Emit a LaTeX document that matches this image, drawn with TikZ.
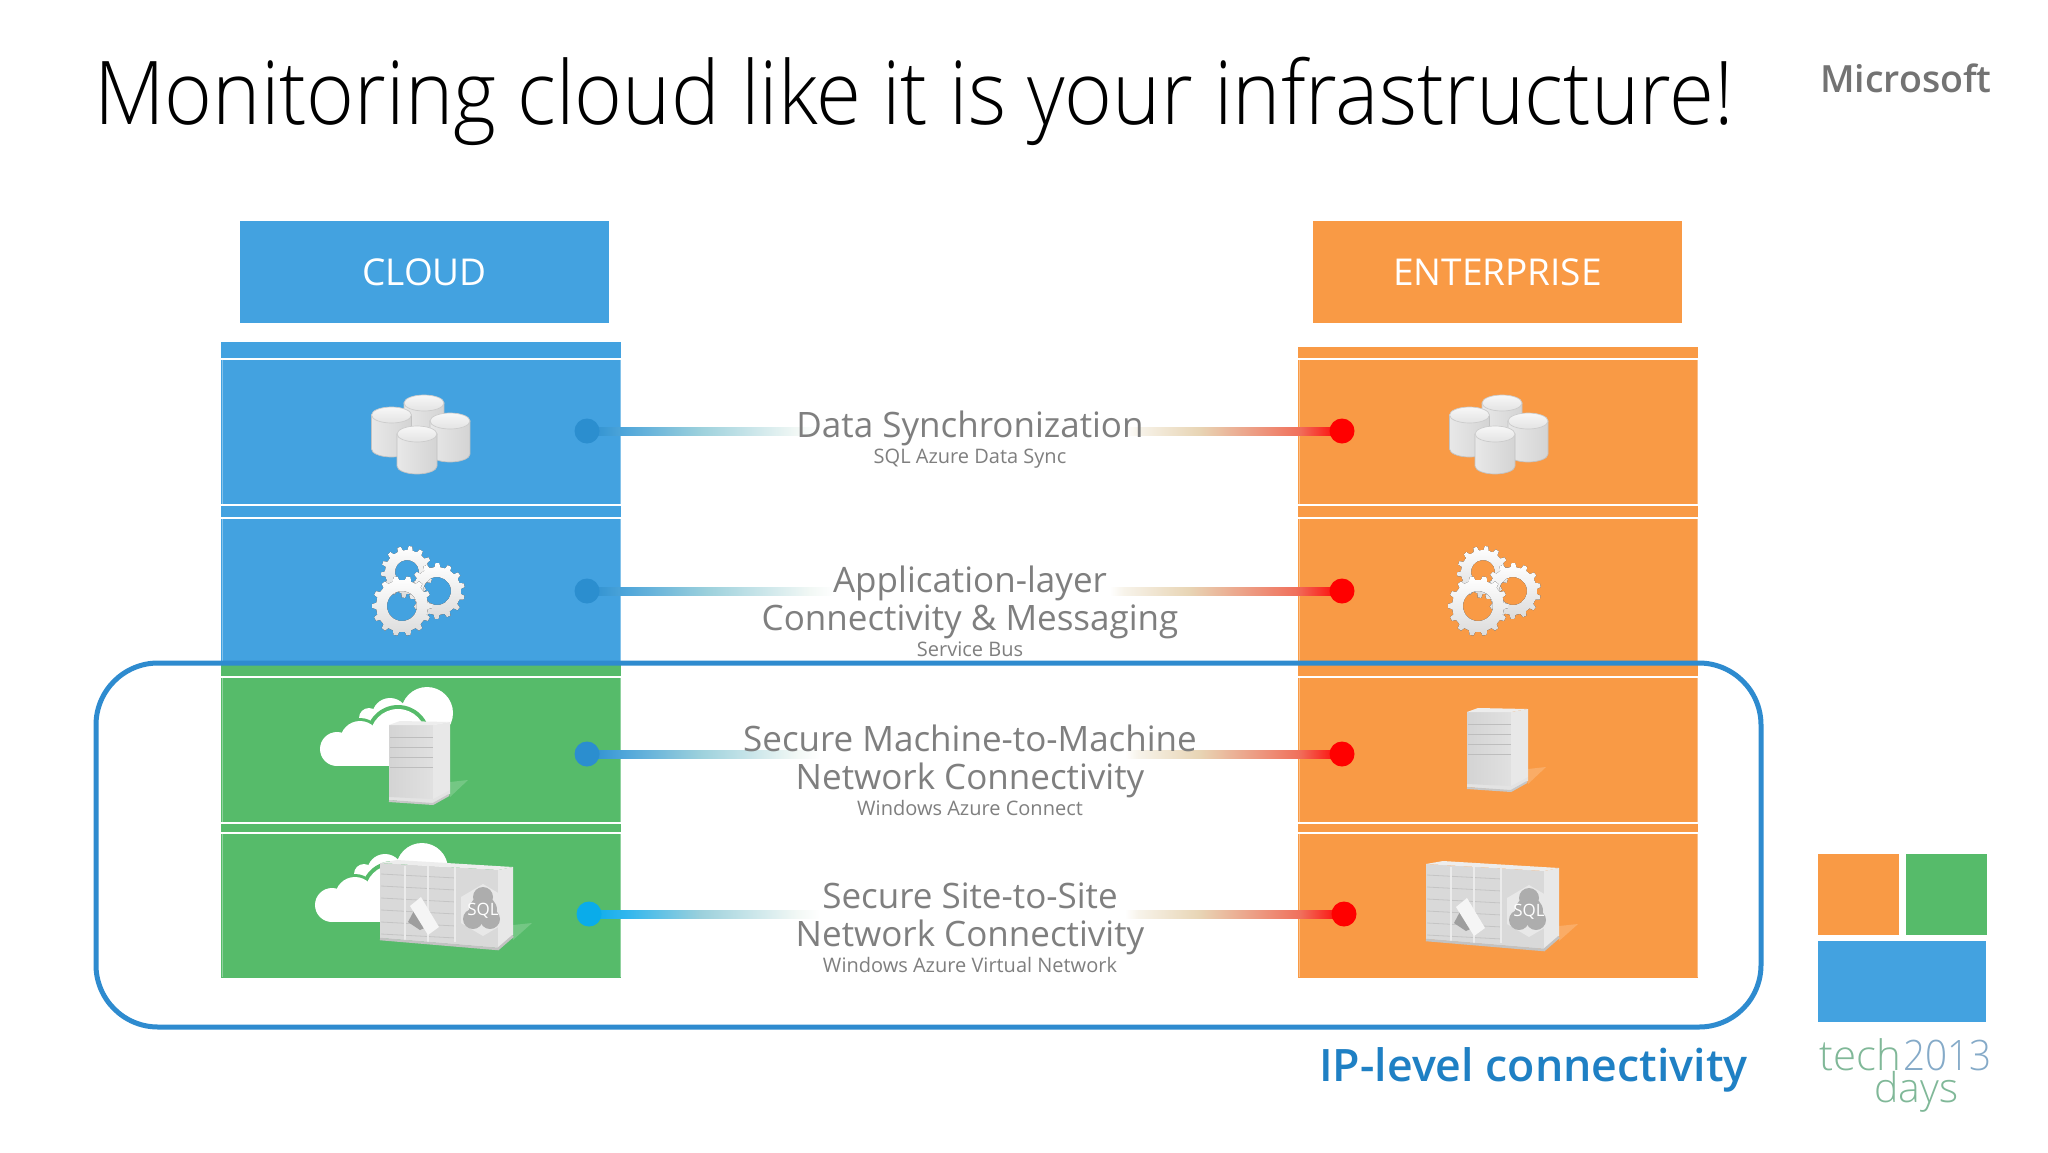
\documentclass[tikz,border=0pt]{standalone}
\usepackage{fontspec}
\usetikzlibrary{calc,shapes.geometric}
\setmainfont{Open Sans}
\newfontfamily\lightf{Open Sans Light}
\newfontfamily\boldf{Open Sans}[UprightFont={* Semibold}]
\definecolor{cblue}{HTML}{43A2E0}
\definecolor{cgreen}{HTML}{56BB6A}
\definecolor{corange}{HTML}{F99A45}
\definecolor{frameblue}{HTML}{2E8BCF}
\definecolor{labelgray}{HTML}{7F7F7F}
\definecolor{dotblue}{HTML}{2B8ECF}
\definecolor{dotcyan}{HTML}{0AACEA}
\definecolor{ipblue}{HTML}{1F80C4}
\definecolor{lA}{HTML}{4FA6DA}
\definecolor{lB}{HTML}{9BD0DC}
\definecolor{lC}{HTML}{F2F8F5}
\definecolor{cA}{HTML}{30B6EE}
\definecolor{rA}{HTML}{F7F3EA}
\definecolor{rB}{HTML}{E8D5B5}
\definecolor{rC}{HTML}{F0705C}
\definecolor{techgreen}{HTML}{80B898}
\definecolor{techblue}{HTML}{85AAC8}
\pgfdeclarehorizontalshading{connL}{100bp}{color(0bp)=(dotblue);color(25bp)=(dotblue);color(33bp)=(lA);color(49bp)=(lB);color(70bp)=(lC);color(75bp)=(white);color(100bp)=(white)}
\pgfdeclarehorizontalshading{connC}{100bp}{color(0bp)=(dotcyan);color(25bp)=(dotcyan);color(33bp)=(cA);color(49bp)=(lB);color(70bp)=(lC);color(75bp)=(white);color(100bp)=(white)}
\pgfdeclarehorizontalshading{connR}{100bp}{color(0bp)=(white);color(25bp)=(white);color(28bp)=(rA);color(42bp)=(rB);color(65bp)=(rC);color(75bp)=(red);color(100bp)=(red)}
\newcommand{\cyl}[3]{% cx, top edge, bottom edge
  \path[shade,left color=black!9,middle color=white,right color=black!17,draw=black!24,line width=.7pt]
    (#1-20,#2+8) -- (#1-20,#3-8) arc[start angle=180,end angle=0,x radius=20,y radius=8] -- (#1+20,#2+8) -- cycle;
  \path[shade,top color=black!3,bottom color=black!11,draw=black!20,line width=.7pt]
    (#1,#2+8) ellipse[x radius=20,y radius=8];
}
\newcommand{\gearshape}[5]{% cx, cy, outer, hole, rotation
  \begin{scope}[shift={(#1,#2)},rotate=#5]
  \fill[even odd rule,top color=white,bottom color=black!14]
    (-7:#3-4)
    \foreach \k in {0,...,13}{
      -- (\k*25.714-7:#3-4) -- (\k*25.714-4:#3) -- (\k*25.714+4:#3) -- (\k*25.714+7:#3-4)
    } -- cycle (0,0) circle[radius=#4];
  \end{scope}
}
\tikzset{
  headbox/.style={rectangle,minimum width=369pt,minimum height=102pt,inner sep=0pt,text=white,font=\fontsize{37}{37}\selectfont},
  dotnode/.style={circle,inner sep=0pt,minimum size=25pt,fill=#1},
  mainlbl/.style={anchor=base,inner sep=0pt,text=labelgray,font=\fontsize{35}{35}\selectfont},
  sublbl/.style={anchor=base,inner sep=0pt,text=labelgray,font=\fontsize{20}{20}\selectfont},
  sep/.style={white,line width=2pt},
  edge/.style={white,opacity=.35,line width=1pt},
  pics/dbicon/.style={code={\cyl{424}{395}{445}\cyl{391.5}{407}{457}\cyl{450}{413}{462}\cyl{417}{426}{474}}},
  pics/gearicon/.style={code={\gearshape{407}{572}{26}{12}{5}\gearshape{437}{591}{28}{14}{12}\gearshape{402}{606}{30}{15}{0}}},
  pics/cloudicon/.style={code={
    \fill[white] (427,713) circle[radius=26];
    \fill[white] (390,716) circle[radius=18];
    \fill[white] (369,718) circle[radius=10];
    \fill[white] (369,718) rectangle (440,730);
    \fill[cgreen] (398,737) circle[radius=32];
    \fill[cgreen] (360,741) circle[radius=23];
    \fill[white] (337,749) circle[radius=17];
    \fill[white] (360,741) circle[radius=20];
    \fill[white] (398,737) circle[radius=28];
    \fill[white] (337,749) rectangle (424,766);
  }},
  pics/servericon/.style={code={
    \fill[white,opacity=.18] (450,782) -- (468,780) -- (450,797) -- cycle;
    \fill[black!11] (389,800) -- (433,804) -- (450,794) -- (450,790) -- (389,796) -- cycle;
    \shade[left color=black!17,right color=black!12] (389,725) -- (433,725) -- (433,799) -- (389,797) -- cycle;
    \fill[black!9] (433,725) -- (450,722) -- (450,790) -- (433,799) -- cycle;
    \fill[black!7] (389,725) -- (400,721) -- (450,722) -- (433,725) -- cycle;
    \foreach \yy in {737,747,757,767}{\draw[black!26,line width=1pt] (390,\yy) -- (433,\yy);}
    \draw[black!22,line width=2pt] (389,801) -- (433,804) -- (449,795);
  }},
  pics/rackicon/.style={code={
    \fill[white,opacity=.18] (513,925) -- (532,923) -- (513,940) -- cycle;
    \fill[black!15] (380,863) -- (498,870) -- (498,948) -- (380,938) -- cycle;
    \fill[black!9] (498,870) -- (513,867) -- (513,935) -- (498,948) -- cycle;
    \fill[black!7] (380,863) -- (397,860) -- (513,867) -- (498,870) -- cycle;
    \foreach \yy in {0,12,24,36,48,60}{\draw[black!23,line width=.8pt] (381,874+\yy) -- (456,878+\yy);}
    \foreach \xx in {405,428,455}{\draw[black!8,line width=1.5pt] (\xx,866) -- (\xx,942);}
    \draw[black!24,line width=2.5pt] (380,939) -- (498,949) -- (513,936);
    \fill[black!9] (483,884) -- (505,897) -- (505,923) -- (483,936) -- (461,923) -- (461,897) -- cycle;
    \fill[black!32] (483,897) circle[radius=10];
    \fill[black!32] (473,919) circle[radius=10];
    \fill[black!32] (490,919) circle[radius=10];
    \fill[black!32] (483,910) circle[radius=14];
    \node[inner sep=0pt,text=white,font=\fontsize{17}{17}\selectfont] at (483,911) {SQL};
    \fill[black!38] (408,922) -- (417,905) -- (431,925) -- (420,930) -- cycle;
    \fill[black!4] (410,906) -- (421,897) -- (439,927) -- (428,935) -- cycle;
  }},
}
\begin{document}
\begin{tikzpicture}[x=1pt,y=-1pt]
\useasboundingbox (0,0) rectangle (2048,1152);
\fill[white] (0,0) rectangle (2048,1152);
% title and logo text
\node[anchor=base west,inner sep=0pt,font=\lightf\fontsize{88}{88}\selectfont] (title) at (94,124) {\scalebox{.93}[1]{Monitoring cloud like it is your infrastructure!}};
\node[anchor=base west,inner sep=0pt,text=black!55,font=\boldf\fontsize{37.5}{37.5}\selectfont] (ms) at (1820,92) {Microsoft};
% headers
\node[headbox,fill=cblue] (cloud) at (424.5,272) {\raisebox{-3.5pt}{CLOUD}};
\node[headbox,fill=corange] (ent) at (1497.5,272) {\raisebox{-3.5pt}{ENTERPRISE}};
% columns
\fill[cblue] (221,342) rectangle (621,663);
\fill[cgreen] (221,663) rectangle (621,978);
\fill[corange] (1298,347) rectangle (1698,978);
\foreach \yy in {359,505,518,677,823,833}{
  \draw[sep] (221,\yy) -- (621,\yy);
  \draw[sep] (1298,\yy) -- (1698,\yy);
}
\foreach \xx in {222,620}{\draw[edge] (\xx,359) -- (\xx,505) (\xx,518) -- (\xx,663) (\xx,677) -- (\xx,823) (\xx,833) -- (\xx,977);}
\foreach \xx in {1299,1697}{\draw[edge] (\xx,359) -- (\xx,505) (\xx,518) -- (\xx,663) (\xx,677) -- (\xx,823) (\xx,833) -- (\xx,977);}
% icons
\pic at (0,0) {dbicon};
\pic at (1078,0) {dbicon};
\pic at (0,0) {gearicon};
\pic at (1076,0) {gearicon};
\pic at (0,0) {cloudicon};
\pic at (-5,156) {cloudicon};
\pic at (0,0) {servericon};
\pic at (1078,-13) {servericon};
\pic at (0,0) {rackicon};
\pic at (1046,1) {rackicon};
% connector ends
\coordinate (f1) at (820,431);
\coordinate (f2) at (835,591);
\coordinate (f3) at (820,754);
\coordinate (f4) at (820,914);
\coordinate (g1) at (1125,431);
\coordinate (g2) at (1110,591);
\coordinate (g3) at (1125,754);
\coordinate (g4) at (1125,914);
\coordinate (h1) at (587,431);
\coordinate (h2) at (587,591);
\coordinate (h3) at (587,754);
\coordinate (h4) at (589,914);
\coordinate (k1) at (1342,431);
\coordinate (k2) at (1342,591);
\coordinate (k3) at (1342,754);
\coordinate (k4) at (1344,914);
% connectors
\foreach \n/\s in {1/connL,2/connL,3/connL,4/connC}{
  \shade[shading=\s] ($(h\n)+(0,-4)$) rectangle ($(f\n)+(0,4)$);
  \shade[shading=connR] ($(g\n)+(0,-4)$) rectangle ($(k\n)+(0,4)$);
}
\node[dotnode=dotblue] (d1) at (h1) {};
\node[dotnode=dotblue] (d2) at (h2) {};
\node[dotnode=dotblue] (d3) at (h3) {};
\node[dotnode=dotcyan] (d4) at (h4) {};
\node[dotnode=red] (e1) at (k1) {};
\node[dotnode=red] (e2) at (k2) {};
\node[dotnode=red] (e3) at (k3) {};
\node[dotnode=red] (e4) at (k4) {};
% frame
\draw[frameblue,line width=5pt,rounded corners=62pt] (96,663) rectangle (1761,1027);
% labels
\node[mainlbl] (t1) at (970,437) {Data Synchronization};
\node[sublbl] (s1) at (970,463) {SQL Azure Data Sync};
\node[mainlbl] (t2) at (970,592) {Application-layer};
\node[mainlbl] (t2b) at (970,630) {Connectivity \& Messaging};
\node[sublbl] (s2) at (970,656) {Service Bus};
\node[mainlbl] (t3) at (970,751) {Secure Machine-to-Machine};
\node[mainlbl] (t3b) at (970,789) {Network Connectivity};
\node[sublbl] (s3) at (970,815) {Windows Azure Connect};
\node[mainlbl] (t4) at (970,908) {Secure Site-to-Site};
\node[mainlbl] (t4b) at (970,946) {Network Connectivity};
\node[sublbl] (s4) at (970,972) {Windows Azure Virtual Network};
\node[anchor=base west,inner sep=0pt,text=ipblue,font=\boldf\fontsize{44.7}{44.7}\selectfont] (ip) at (1319,1081) {IP-level connectivity};
% logo
\fill[corange] (1818,854) rectangle (1899,935);
\fill[cgreen] (1906,854) rectangle (1987,935);
\fill[cblue] (1818,941) rectangle (1986,1022);
\node[anchor=base west,inner sep=0pt,text=techgreen,font=\lightf\fontsize{42}{42}\selectfont] (tech) at (1819,1070) {tech};
\node[anchor=base west,inner sep=0pt,text=techblue,font=\lightf\fontsize{42}{42}\selectfont] (yr) at (1903,1070) {\scalebox{.92}[1]{2013}};
\node[anchor=base west,inner sep=0pt,text=techgreen,font=\lightf\fontsize{41}{41}\selectfont] (days) at (1874,1102) {days};
\end{tikzpicture}
\end{document}
